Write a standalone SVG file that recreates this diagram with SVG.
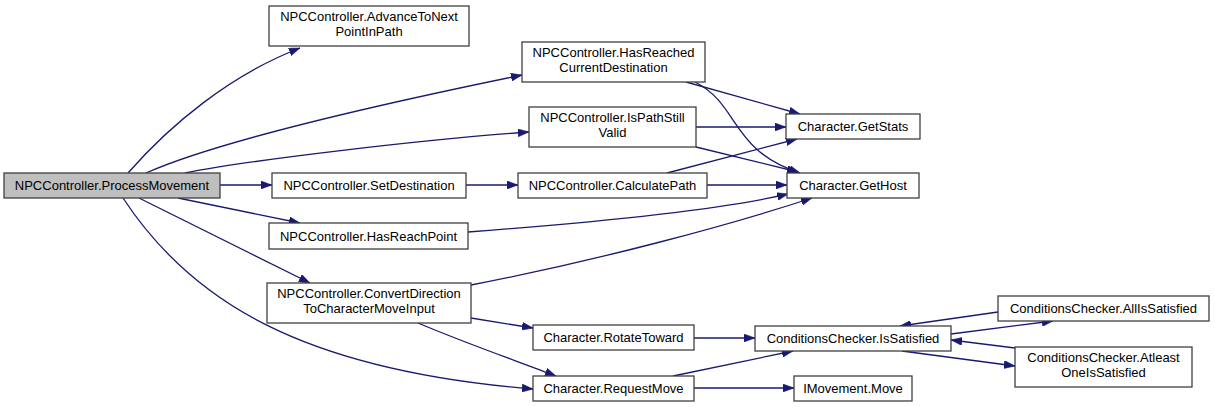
<svg xmlns="http://www.w3.org/2000/svg" width="1215" height="407" viewBox="0 0 1215 407">
<style>
.node rect{fill:#ffffff;stroke:#404040;stroke-width:1.3}
.node.main rect{fill:#bfbfbf}
.node text{font-family:"Liberation Sans",Arial,sans-serif;font-size:13px;fill:#000;text-anchor:middle}
.edges path{fill:none;stroke:#191970;stroke-width:1.3;marker-end:url(#arrow)}
</style>
<defs>
<marker id="arrow" markerUnits="userSpaceOnUse" markerWidth="11" markerHeight="8" refX="11" refY="4" orient="auto">
<path d="M0,0 L11,4 L0,8 z" fill="#191970" stroke="#191970" stroke-width="0.5"/>
</marker>
</defs>
<rect width="1215" height="407" fill="#ffffff"/>
<g class="edges" id="connectors">
<path d="M128,173 C170,125 230,75 300,48"/>
<path d="M146,173 C220,140 400,100 522,75"/>
<path d="M185,173 C250,160 420,140 529,132"/>
<path d="M220,185 L272,185"/>
<path d="M178,198 L300,223"/>
<path d="M139,198 C200,228 260,258 310,283"/>
<path d="M123,198 C190,300 300,370 533,389"/>
<path d="M686,82 L800,114"/>
<path d="M695,82 C740,105 730,150 800,173"/>
<path d="M696,127 L786,127"/>
<path d="M696,147 L798,172"/>
<path d="M466,185 L518,185"/>
<path d="M667,173 L797,139"/>
<path d="M707,185 L787,185"/>
<path d="M468,232 C600,222 720,210 788,194"/>
<path d="M471,285 C600,260 730,225 812,198"/>
<path d="M471,318 L533,328"/>
<path d="M418,323 C470,345 520,362 556,376"/>
<path d="M694,338 L755,338"/>
<path d="M673,376 C710,368 750,360 793,351"/>
<path d="M694,388 L794,388"/>
<path d="M951,334 L1053,321"/>
<path d="M998,312 L900,326"/>
<path d="M902,351 L1015,366"/>
<path d="M1015,348 L951,340"/>
</g>
<g class="node main" id="processMovement"><rect x="4" y="173" width="216" height="25"/><text x="112" y="190">NPCController.ProcessMovement</text></g>
<g class="node" id="advanceToNext"><rect x="269" y="6" width="200" height="40"/><text x="369" y="21">NPCController.AdvanceToNext</text><text x="369" y="36">PointInPath</text></g>
<g class="node" id="hasReachedCurrent"><rect x="522" y="42" width="183" height="40"/><text x="613.5" y="57">NPCController.HasReached</text><text x="613.5" y="72">CurrentDestination</text></g>
<g class="node" id="isPathStillValid"><rect x="529" y="107" width="167" height="40"/><text x="612.5" y="122">NPCController.IsPathStill</text><text x="612.5" y="137">Valid</text></g>
<g class="node" id="setDestination"><rect x="272" y="173" width="194" height="25"/><text x="369" y="190">NPCController.SetDestination</text></g>
<g class="node" id="calculatePath"><rect x="518" y="173" width="189" height="25"/><text x="612.5" y="190">NPCController.CalculatePath</text></g>
<g class="node" id="hasReachPoint"><rect x="269" y="223" width="199" height="26"/><text x="368.5" y="240.5">NPCController.HasReachPoint</text></g>
<g class="node" id="convertDirection"><rect x="267" y="283" width="204" height="40"/><text x="369" y="298">NPCController.ConvertDirection</text><text x="369" y="313">ToCharacterMoveInput</text></g>
<g class="node" id="rotateToward"><rect x="533" y="325" width="161" height="25"/><text x="613.5" y="342">Character.RotateToward</text></g>
<g class="node" id="requestMove"><rect x="533" y="376" width="161" height="25"/><text x="613.5" y="393">Character.RequestMove</text></g>
<g class="node" id="getStats"><rect x="786" y="114" width="134" height="25"/><text x="853" y="131">Character.GetStats</text></g>
<g class="node" id="getHost"><rect x="787" y="173" width="132" height="25"/><text x="853" y="190">Character.GetHost</text></g>
<g class="node" id="isSatisfied"><rect x="755" y="326" width="196" height="25"/><text x="853" y="343">ConditionsChecker.IsSatisfied</text></g>
<g class="node" id="allIsSatisfied"><rect x="998" y="296" width="211" height="25"/><text x="1103.5" y="313">ConditionsChecker.AllIsSatisfied</text></g>
<g class="node" id="atleastOne"><rect x="1015" y="347" width="177" height="40"/><text x="1103.5" y="362">ConditionsChecker.Atleast</text><text x="1103.5" y="377">OneIsSatisfied</text></g>
<g class="node" id="movementMove"><rect x="794" y="376" width="118" height="25"/><text x="853" y="393">IMovement.Move</text></g>
</svg>
